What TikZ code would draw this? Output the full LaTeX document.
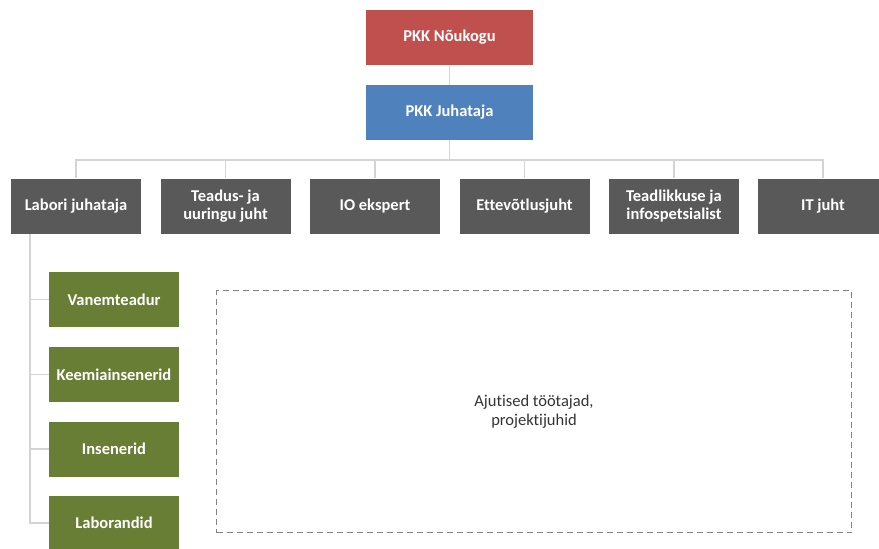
\documentclass[tikz,border=0pt]{standalone}
\usepackage{fontspec}
\setmainfont{Carlito}[Ligatures=NoCommon]
\definecolor{boardred}{HTML}{C0504D}
\definecolor{headblue}{HTML}{4F81BD}
\definecolor{staffgray}{HTML}{595959}
\definecolor{labgreen}{HTML}{677E34}
\definecolor{linkgray}{HTML}{D4D4D4}
\definecolor{dashgray}{HTML}{828282}
\begin{document}
\begin{tikzpicture}[x=1pt,y=-1pt,
  unit/.style={minimum width=130pt, minimum height=55pt, inner sep=0pt,
    text=white, align=center, font=\bfseries\fontsize{16.5}{18.5}\selectfont},
  topunit/.style={unit, minimum width=167pt},
  staff/.style={unit, fill=staffgray},
  lab/.style={unit, fill=labgreen},
  link/.style={draw=linkgray, line width=1.3pt}]
\useasboundingbox (0,0) rectangle (879,549);
\clip (0,0) rectangle (879,549);

% management
\node[topunit, fill=boardred] (board) at (449.5,37.5) {PKK Nõukogu};
\node[topunit, fill=headblue] (head) at (449.5,112.5) {PKK Juhataja};

% second level
\node[staff] (labhead) at (76,206)    {Labori juhataja};
\node[staff] (research) at (225.5,206) {Teadus- ja\\uuringu juht};
\node[staff] (ioexp) at (375,206)     {IO ekspert};
\node[staff] (business) at (524.5,206) {Ettevõtlusjuht};
\node[staff] (info) at (674,206)      {Teadlikkuse ja\\infospetsialist};
\node[staff] (itlead) at (823,206)    {IT juht};

% laboratory staff
\node[lab] (senior) at (114,299.5)  {Vanemteadur};
\node[lab] (chem) at (114,374.5)    {Keemiainsenerid};
\node[lab] (eng) at (114,449)       {Insenerid};
\node[lab] (tech) at (114,523)      {Laborandid};

% temporary staff area
\node[draw=dashgray, dash pattern=on 6pt off 4pt, line width=1.2pt,
  minimum width=635pt, minimum height=242pt, inner sep=0pt, align=center,
  text=black!80, font=\fontsize{16.5}{19}\selectfont] (temp) at (534,411.7)
  {Ajutised töötajad,\\projektijuhid};

% connectors
\coordinate (bar) at (449.5,160);
\coordinate (labline) at ([xshift=-46pt]labhead.south);
\draw[link] (board) -- (head);
\draw[link] (head) -- (bar);
\foreach \n in {labhead,research,ioexp,business,info,itlead}
  \draw[link] (\n.north) |- (bar);
\draw[link] (labline) |- (tech.west);
\foreach \n in {senior,chem,eng}
  \draw[link] (\n.west) -- (\n.west -| labline);
\end{tikzpicture}
\end{document}
